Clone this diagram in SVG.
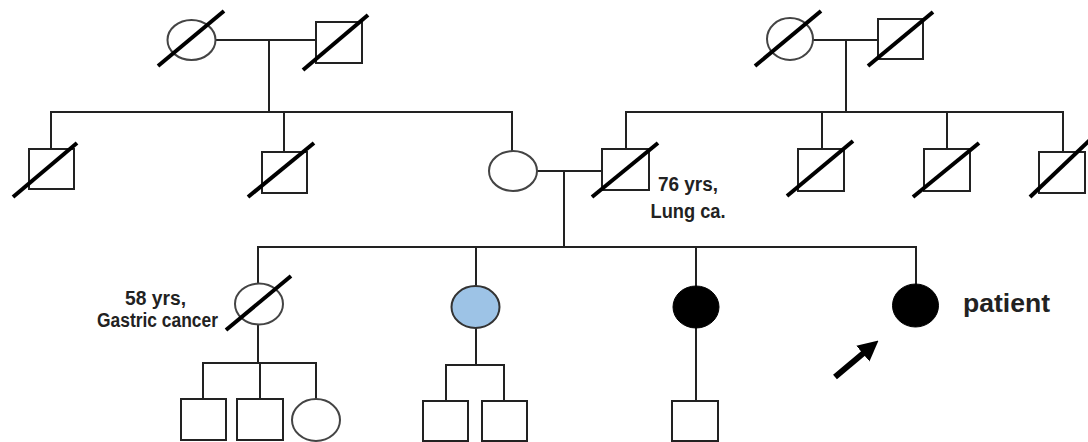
<svg xmlns="http://www.w3.org/2000/svg" width="1088" height="442" viewBox="0 0 1088 442">
<style>
.ln{stroke:#222;stroke-width:2;fill:none;stroke-linecap:square}
.sq{fill:#fff;stroke:#222;stroke-width:2}
.ci{fill:#fff;stroke:#444;stroke-width:2}
.dec{stroke:#000;stroke-width:4;stroke-linecap:butt}
.aff{fill:#000;stroke:#000;stroke-width:1}
.car{fill:#9DC3E6;stroke:#333;stroke-width:2}
.lbl{font-family:"Liberation Sans",Arial,sans-serif;font-weight:bold;font-size:20px;fill:#222}
</style>
<defs>
<marker id="ah" viewBox="0 0 10 10" refX="2" refY="5" markerWidth="3.4" markerHeight="3.6" orient="auto" markerUnits="strokeWidth">
<path d="M0,0 L10,5 L0,10 Z" fill="#000"/>
</marker>
</defs>
<rect width="1088" height="442" fill="#fff"/>
<g id="connectors">
<path class="ln" d="M216,40 H316 M269,40 V112 M51,112 H512 M51,112 V149 M284,112 V152 M512,112 V151"/>
<path class="ln" d="M813,40 H878 M846,40 V112 M626,112 H1063 M626,112 V149 M822,112 V149 M947,112 V149 M1063,112 V152"/>
<path class="ln" d="M537,171 H602 M564,171 V247 M258,247 H916 M258,247 V284 M476,247 V286 M696,247 V286 M916,247 V284"/>
<path class="ln" d="M258,325 V363 M203,363 H316 M203,363 V399 M260,363 V399 M316,363 V399"/>
<path class="ln" d="M476,328 V365 M446,365 H504 M446,365 V401 M504,365 V401"/>
<path class="ln" d="M696,328 V401"/>
</g>
<g id="gm1"><ellipse class="ci" cx="191.5" cy="40" rx="24" ry="20"/><line class="dec" x1="158" y1="66" x2="224" y2="11"/></g>
<g id="gf1"><rect class="sq" x="316" y="22" width="46" height="41"/><line class="dec" x1="303" y1="70" x2="368" y2="15"/></g>
<g id="u1"><rect class="sq" x="29" y="149" width="45" height="40"/><line class="dec" x1="13" y1="197" x2="77" y2="143"/></g>
<g id="u2"><rect class="sq" x="262" y="152" width="45" height="41"/><line class="dec" x1="248" y1="197" x2="314" y2="143"/></g>
<g id="mother"><ellipse class="ci" cx="513" cy="171" rx="24" ry="20"/></g>
<g id="gm2"><ellipse class="ci" cx="790" cy="39" rx="23" ry="21"/><line class="dec" x1="755" y1="66" x2="821" y2="11"/></g>
<g id="gf2"><rect class="sq" x="878" y="19" width="45" height="40"/><line class="dec" x1="868" y1="66" x2="933" y2="12"/></g>
<g id="father"><rect class="sq" x="602" y="149" width="47" height="41"/><line class="dec" x1="592" y1="197" x2="658" y2="143"/>
<text class="lbl" x="688" y="191" text-anchor="middle" textLength="60" lengthAdjust="spacingAndGlyphs">76 yrs,</text>
<text class="lbl" x="688" y="218" text-anchor="middle" textLength="75" lengthAdjust="spacingAndGlyphs">Lung ca.</text></g>
<g id="u3"><rect class="sq" x="798" y="149" width="46" height="42"/><line class="dec" x1="787" y1="196" x2="853" y2="141"/></g>
<g id="u4"><rect class="sq" x="924" y="149" width="46" height="42"/><line class="dec" x1="913" y1="197" x2="979" y2="143"/></g>
<g id="u5"><rect class="sq" x="1039" y="152" width="46" height="41"/><line class="dec" x1="1030" y1="197" x2="1091" y2="139"/></g>
<g id="aunt"><ellipse class="ci" cx="259" cy="304" rx="24" ry="20.5"/><line class="dec" x1="226" y1="330" x2="291" y2="276"/>
<text class="lbl" x="155.5" y="305" text-anchor="middle" textLength="61" lengthAdjust="spacingAndGlyphs">58 yrs,</text>
<text class="lbl" x="97" y="327" textLength="121" lengthAdjust="spacingAndGlyphs">Gastric cancer</text></g>
<g id="sister1"><ellipse class="car" cx="475.5" cy="307" rx="24" ry="21"/></g>
<g id="sister2"><ellipse class="aff" cx="696" cy="307" rx="23" ry="21"/></g>
<g id="patient"><ellipse class="aff" cx="915.5" cy="305.5" rx="23" ry="21.5"/>
<text class="lbl" x="963" y="312" style="font-size:25px" textLength="87" lengthAdjust="spacingAndGlyphs">patient</text>
<line x1="835" y1="377" x2="866" y2="351" stroke="#000" stroke-width="6" marker-end="url(#ah)"/></g>
<g id="c1"><rect class="sq" x="181" y="399" width="45" height="41"/></g>
<g id="c2"><rect class="sq" x="237" y="399" width="46" height="41"/></g>
<g id="c3"><ellipse class="ci" cx="316" cy="420" rx="24" ry="21"/></g>
<g id="c4"><rect class="sq" x="423" y="401" width="45" height="40"/></g>
<g id="c5"><rect class="sq" x="482" y="401" width="45" height="40"/></g>
<g id="c6"><rect class="sq" x="672" y="401" width="46" height="40"/></g>
</svg>
